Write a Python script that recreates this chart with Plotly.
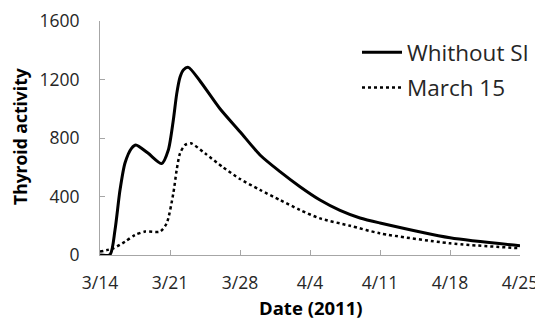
import plotly.graph_objects as go

# Data
solid_dates = ["2011-03-14 00:00", "2011-03-15 00:00", "2011-03-15 12:00", "2011-03-16 00:00",
               "2011-03-16 12:00", "2011-03-17 04:00", "2011-03-17 14:00", "2011-03-18 19:00",
               "2011-03-20 04:00", "2011-03-20 20:00", "2011-03-21 08:00", "2011-03-21 16:00",
               "2011-03-22 00:00", "2011-03-22 08:00", "2011-03-22 20:00", "2011-03-24 00:00",
               "2011-03-26 00:00", "2011-03-28 00:00", "2011-03-30 00:00", "2011-04-01 00:00",
               "2011-04-03 00:00", "2011-04-05 00:00", "2011-04-07 00:00", "2011-04-09 00:00",
               "2011-04-11 00:00", "2011-04-18 00:00", "2011-04-25 00:00"]
solid_vals = [0, 3, 171, 444, 629, 731, 752, 697, 625, 718, 923, 1100, 1215, 1265, 1283,
              1190, 1000, 843, 684, 570, 467, 376, 305, 253, 219, 118, 64]

dot_dates = ["2011-03-14 00:00", "2011-03-15 08:00", "2011-03-16 12:00", "2011-03-17 12:00",
             "2011-03-18 12:00", "2011-03-20 00:00", "2011-03-20 16:00", "2011-03-21 08:00",
             "2011-03-21 16:00", "2011-03-22 00:00", "2011-03-22 12:00", "2011-03-23 02:00",
             "2011-03-24 12:00", "2011-03-26 07:00", "2011-03-28 00:00", "2011-03-30 00:00",
             "2011-04-01 00:00", "2011-04-03 00:00", "2011-04-05 00:00", "2011-04-08 00:00",
             "2011-04-11 00:00", "2011-04-18 00:00", "2011-04-25 00:00"]
dot_vals = [23, 46, 91, 137, 160, 160, 217, 422, 581, 695, 752, 764,
            695, 600, 520, 445, 376, 308, 250, 200, 148, 80, 46]

series_names = ["Whithout SI", "March 15"]
x_tick_vals = ["2011-03-14", "2011-03-21", "2011-03-28", "2011-04-04",
               "2011-04-11", "2011-04-18", "2011-04-25"]
x_tick_text = ["3/14", "3/21", "3/28", "4/4", "4/11", "4/18", "4/25"]
y_tick_vals = [0, 400, 800, 1200, 1600]

FONT = "Open Sans"
TEXT_COLOR = "#262626"
BODY_OFFSET = 8  # default page body margin shifts the figure by 8px

fig = go.Figure()
fig.add_trace(go.Scatter(x=solid_dates, y=solid_vals, mode="lines", name=series_names[0],
                         line=dict(color="black", width=3, shape="spline", smoothing=0.7),
                         legendgroup="a"))
fig.add_trace(go.Scatter(x=dot_dates, y=dot_vals, mode="lines", name=series_names[1],
                         line=dict(color="black", width=2.5, dash="dot", shape="spline", smoothing=0.7),
                         legendgroup="b"))

axis_common = dict(showgrid=False, zeroline=False, showline=True, linecolor="#A6A6A6",
                   linewidth=1, ticks="inside", ticklen=5, tickcolor="#A6A6A6",
                   automargin=False,
                   tickfont=dict(family=FONT, size=17.5, color=TEXT_COLOR))

fig.update_layout(
    width=543, height=322,
    margin=dict(l=100 - BODY_OFFSET, r=23 + BODY_OFFSET, t=21 - BODY_OFFSET, b=67 + BODY_OFFSET),
    paper_bgcolor="white", plot_bgcolor="white",
    font=dict(family=FONT, color="black"),
    showlegend=True,
    legend=dict(x=(357 - 100) / 420, y=1 - (31 - 21) / 234, xanchor="left", yanchor="top",
                font=dict(family=FONT, size=22.5, color=TEXT_COLOR),
                tracegroupgap=3, itemwidth=40, bgcolor="rgba(0,0,0,0)",
                borderwidth=0),
    annotations=[
        dict(text="<b>Thyroid activity</b>", xref="paper", yref="paper",
             x=(20 - 100) / 420, y=(255 - 137) / 234, textangle=-90, showarrow=False,
             xanchor="center", yanchor="middle",
             font=dict(family=FONT, size=17.5, color="black")),
        dict(text="<b>Date (2011)</b>", xref="paper", yref="paper",
             x=(310 - 100) / 420, y=-(307 - 255) / 234, showarrow=False,
             xanchor="center", yanchor="middle",
             font=dict(family=FONT, size=18.5, color="black")),
    ],
)
fig.update_xaxes(**axis_common, type="date", range=["2011-03-14", "2011-04-25"],
                 tickvals=x_tick_vals, ticktext=x_tick_text, ticklabelstandoff=12)
fig.update_yaxes(**axis_common, range=[0, 1600], tickvals=y_tick_vals, ticklabelstandoff=16)

fig.write_html("out.html")
